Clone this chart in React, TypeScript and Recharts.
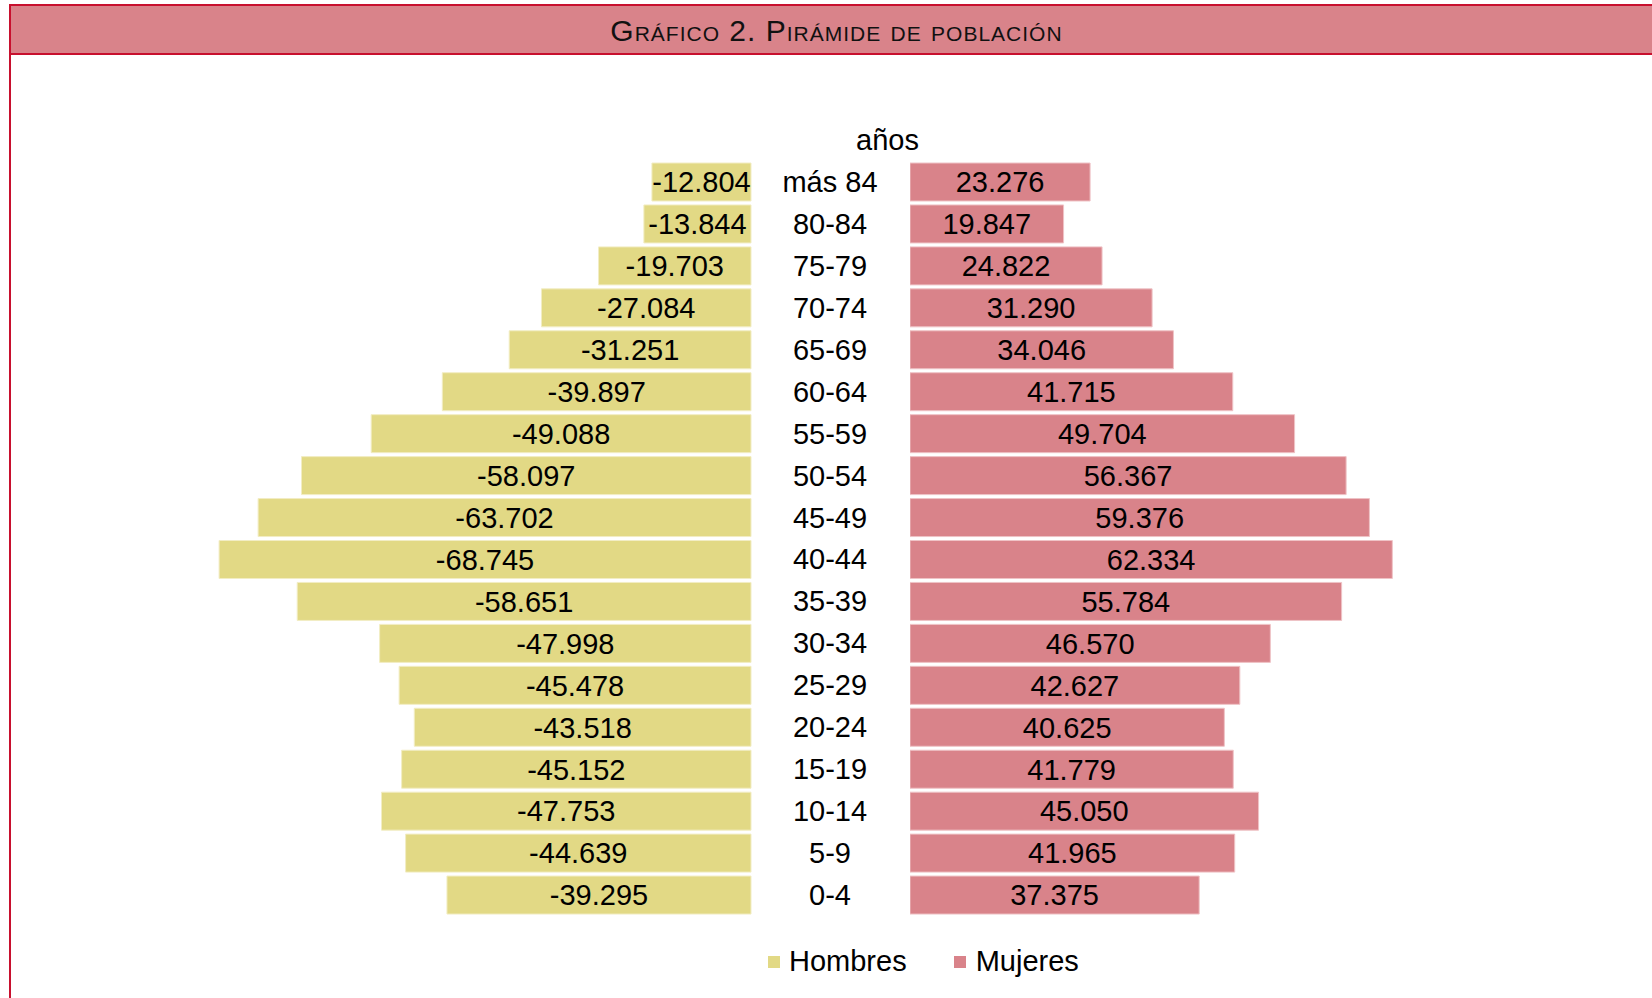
import React from 'react';
import { BarChart, Bar, XAxis, YAxis, LabelList } from 'recharts';

const ages = [
  'más 84', '80-84', '75-79', '70-74', '65-69', '60-64', '55-59', '50-54', '45-49',
  '40-44', '35-39', '30-34', '25-29', '20-24', '15-19', '10-14', '5-9', '0-4',
];
const hombres = [
  -12804, -13844, -19703, -27084, -31251, -39897, -49088, -58097, -63702,
  -68745, -58651, -47998, -45478, -43518, -45152, -47753, -44639, -39295,
];
const mujeres = [
  23276, 19847, 24822, 31290, 34046, 41715, 49704, 56367, 59376,
  62334, 55784, 46570, 42627, 40625, 41779, 45050, 41965, 37375,
];

const data = ages.map((age, i) => ({ age, hombres: hombres[i], mujeres: mujeres[i] }));

const MALE = '#E2D985';
const FEMALE = '#D9838A';
const FONT = '"Liberation Sans", Arial, sans-serif';

// 12804 -> "12.804"
const fmt = (v: any) => {
  const n = Number(v);
  const s = String(Math.abs(n)).replace(/\B(?=(\d{3})+(?!\d))/g, '.');
  return (n < 0 ? '-' : '') + s;
};

const AgeTick = (props: any) => {
  const { x, y, payload } = props;
  return (
    <text x={x + 71} y={y} dy={10} textAnchor="middle" fontSize={29} fontFamily={FONT} fill="#000">
      {payload.value}
    </text>
  );
};

const labelStyle = { fontSize: 29, fontFamily: FONT, fill: '#000' };

export default function App() {
  return (
    <div style={{ position: 'absolute', left: 0, top: 0, width: 1652, height: 998, background: '#fff', overflow: 'hidden' }}>
      {/* title bar */}
      <div
        style={{
          position: 'absolute', left: 9, top: 4, width: 1643, height: 51,
          background: FEMALE, borderTop: '2px solid #C8102E', borderBottom: '2px solid #C8102E',
          borderLeft: '2px solid #C8102E', boxSizing: 'border-box',
          display: 'flex', alignItems: 'center', justifyContent: 'center',
          fontFamily: FONT, fontSize: 30, fontVariant: 'small-caps', color: '#111',
          letterSpacing: 1,
        }}
      >
        <span style={{ paddingTop: 3, paddingLeft: 10 }}>Gráfico 2. Pirámide de población</span>
      </div>
      <div style={{ position: 'absolute', left: 9, top: 55, width: 2, height: 943, background: '#C8102E' }} />

      <div style={{ position: 'absolute', left: 856, top: 124, fontFamily: FONT, fontSize: 29, color: '#000' }}>
        años
      </div>

      <div style={{ position: 'absolute', left: 132, top: 161 }}>
        <BarChart width={778} height={755} data={data} layout="vertical" margin={{ top: 0, right: 0, bottom: 0, left: 0 }} barCategoryGap={2}>
          <XAxis type="number" domain={[-80000, 0]} hide />
          <YAxis
            type="category"
            dataKey="age"
            orientation="right"
            width={159}
            axisLine={false}
            tickLine={false}
            tick={<AgeTick />}
            interval={0}
          />
          <Bar dataKey="hombres" fill={MALE} stroke="#F2EDC4" strokeWidth={1} isAnimationActive={false}>
            <LabelList dataKey="hombres" position="center" formatter={fmt} style={labelStyle} />
          </Bar>
        </BarChart>
      </div>

      <div style={{ position: 'absolute', left: 910, top: 161 }}>
        <BarChart width={619} height={755} data={data} layout="vertical" margin={{ top: 0, right: 0, bottom: 0, left: 0 }} barCategoryGap={2}>
          <XAxis type="number" domain={[0, 80000]} hide />
          <YAxis type="category" dataKey="age" hide />
          <Bar dataKey="mujeres" fill={FEMALE} stroke="#EFC3C6" strokeWidth={1} isAnimationActive={false}>
            <LabelList dataKey="mujeres" position="center" formatter={fmt} style={labelStyle} />
          </Bar>
        </BarChart>
      </div>

      {/* legend */}
      <div style={{ position: 'absolute', top: 945, left: 768, display: 'flex', alignItems: 'center', fontFamily: FONT, fontSize: 29, color: '#000' }}>
        <span style={{ width: 12, height: 12, background: MALE, display: 'inline-block', marginRight: 9 }} />
        <span>Hombres</span>
        <span style={{ width: 12, height: 12, background: FEMALE, display: 'inline-block', marginLeft: 47, marginRight: 10 }} />
        <span>Mujeres</span>
      </div>
    </div>
  );
}
